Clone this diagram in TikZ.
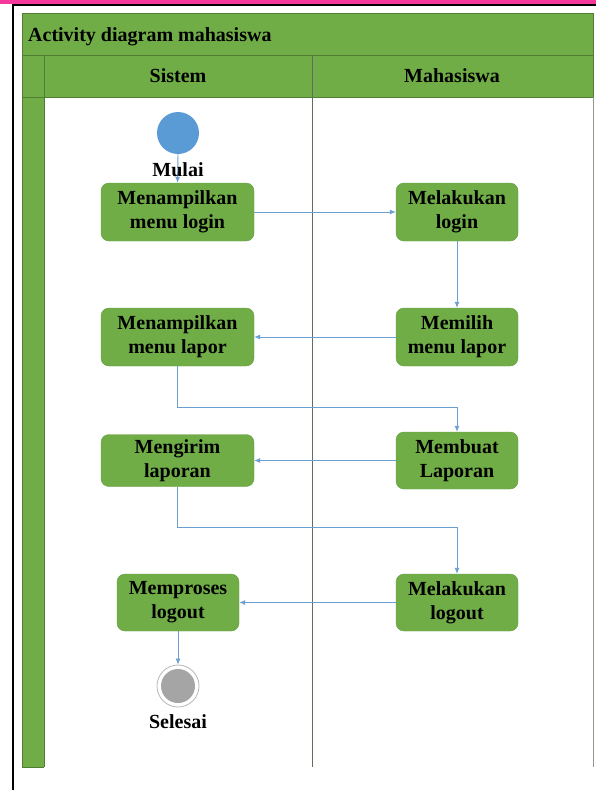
\documentclass[tikz,border=0pt]{standalone}
\usepackage{fontspec}
\setmainfont{Liberation Serif}
\usetikzlibrary{arrows.meta}
\definecolor{pinkbar}{HTML}{F5389A}
\definecolor{lanegreen}{HTML}{70AD47}
\definecolor{darkgreen}{HTML}{507E32}
\definecolor{divider}{HTML}{5F6F5B}
\definecolor{flowblue}{HTML}{6A9FD0}
\definecolor{startblue}{HTML}{5B9BD5}
\definecolor{endgray}{HTML}{A5A5A5}
\tikzset{
  txt/.style={font=\bfseries\fontsize{20}{24}\selectfont, text=black, inner sep=0pt},
  act/.style={txt, rectangle, rounded corners=8pt, fill=lanegreen, draw=lanegreen!90!black, line width=0.4pt, align=center, minimum height=58pt},
  wide/.style={act, minimum width=153pt},
  narrow/.style={act, minimum width=122pt},
  flow/.style={draw=flowblue, line width=0.9pt, -{Latex[length=6pt,width=5pt]}},
  laneline/.style={draw=darkgreen, line width=0.7pt},
}
\begin{document}
\begin{tikzpicture}[x=1pt,y=-1pt]
\useasboundingbox (0,0) rectangle (596,790);
\fill[white] (0,0) rectangle (596,790);
% pink bar and black frame
\fill[pinkbar] (0,0) rectangle (596,3.5);
\draw[black, line width=2pt] (13,790) -- (13,5) -- (596,5);
% pool
\fill[lanegreen] (22,13) rectangle (593,97);
\fill[lanegreen] (22,97) rectangle (44,767);
\draw[laneline] (22,767) -- (22,13) -- (593,13) -- (593,97);
\draw[laneline] (22,55) -- (593,55);
\draw[laneline] (22,97) -- (593,97);
\draw[laneline] (44,55) -- (44,767);
\draw[laneline] (22,767) -- (44,767);
\draw[divider, line width=0.8pt] (312,55) -- (312,767);
\draw[divider!70!white, line width=0.8pt] (593,97) -- (593,767);
% headings
\node[txt, anchor=base west] (title) at (28,41) {Activity diagram mahasiswa};
\node[txt, anchor=base] (sistem) at (178,82) {Sistem};
\node[txt, anchor=base] (mhs) at (452,82) {Mahasiswa};
% start
\node[circle, fill=startblue, minimum size=42pt, inner sep=0pt] (start) at (178,133) {};
% activities
\node[wide] (mlogin) at (177.5,212) {Menampilkan\\menu login};
\node[narrow] (dlogin) at (457,212) {Melakukan\\login};
\node[narrow] (pilih) at (457,337) {Memilih\\menu lapor};
\node[wide] (mlapor) at (177.5,337) {Menampilkan\\menu lapor};
\node[narrow, minimum height=57pt] (buat) at (457,460.5) {Membuat\\Laporan};
\node[wide, minimum height=52pt] (kirim) at (177.5,460.5) {Mengirim\\laporan};
\node[narrow, minimum height=57pt] (dlogout) at (457,602.5) {Melakukan\\logout};
\node[narrow, minimum height=57pt] (proses) at (178,602.5) {Memproses\\logout};
% end
\node[circle, fill=white, draw=endgray!80!white, line width=0.8pt, minimum size=42pt, inner sep=0pt] (fin) at (178,686) {};
\node[circle, fill=endgray, minimum size=34pt, inner sep=0pt] (fininner) at (178,686) {};
% flows
\draw[flow] (start.south) -- (mlogin.north);
\draw[flow] (mlogin.east) -- (dlogin.west);
\draw[flow] (dlogin.south) -- (pilih.north);
\draw[flow] (pilih.west) -- (mlapor.east);
\draw[flow] (mlapor.south) -- ++(0,41) -| (buat.north);
\draw[flow] (buat.west) -- (kirim.east);
\draw[flow] (kirim.south) -- ++(0,41) -| (dlogout.north);
\draw[flow] (dlogout.west) -- (proses.east);
\draw[flow] (proses.south) -- (fin.north);
% labels
\node[txt, anchor=base] (mulai) at (178,176) {Mulai};
\node[txt, anchor=base] (selesai) at (178,728) {Selesai};
\end{tikzpicture}
\end{document}
